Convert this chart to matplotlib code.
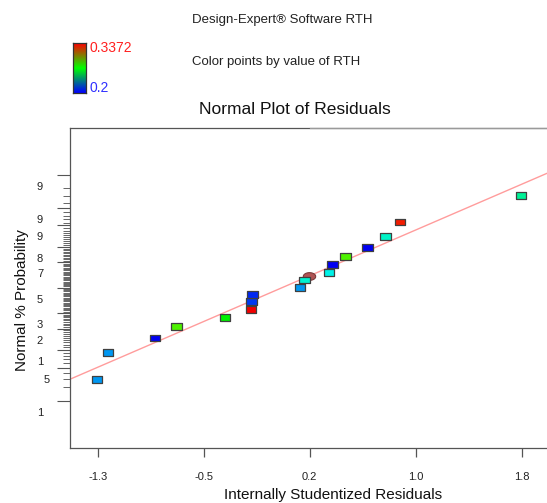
import math
from statistics import NormalDist

import numpy as np
import matplotlib
matplotlib.use("Agg")
import matplotlib.pyplot as plt
from matplotlib import colors, transforms

plt.rcParams['font.family'] = ['Liberation Sans', 'DejaVu Sans']

W, H = 547, 503

# residual tick values (evenly spaced) and the rounded labels shown
xtick_values = [-1.31, -0.54, 0.23, 1.00, 1.77]
xtick_labels = ["-1.3", "-0.5", "0.2", "1.0", "1.8"]

# probability ticks; the labels are clipped to one digit in the original
ytick_values = [99, 95, 90, 80, 70, 50, 30, 20, 10, 5, 1]
ytick_labels = ["9", "9", "9", "8", "7", "5", "3", "2", "1", "5", "1"]

# studentized residuals, normal % probability and RTH value of each run
residuals = [-1.315, -1.235, -0.893, -0.738, -0.384, -0.199, -0.192, -0.185,
             0.161, 0.193, 0.372, 0.397, 0.491, 0.651, 0.782, 0.886, 1.766]
probs = [3.0, 9.2, 15.0, 21.1, 27.1, 32.8, 38.7, 44.3,
         50.3, 56.3, 62.1, 68.2, 73.8, 79.7, 85.5, 91.2, 97.1]
rth = [0.2214, 0.2214, 0.2, 0.2795, 0.2686, 0.3372, 0.2080, 0.2057,
       0.2214, 0.2390, 0.2357, 0.2, 0.2795, 0.2, 0.2406, 0.3332, 0.2472]

# the odd round point
circle_resid = [0.228]
circle_prob = [59.9]

# reference line, read at the two frame edges
line_x = [-1.511, 1.955]
line_p = [3.0, 99.07]

rth_min, rth_max = 0.2, 0.3372

nd = NormalDist()
_inv = np.vectorize(lambda v: nd.inv_cdf(v / 100.0), otypes=[float])
_erf = np.vectorize(math.erf, otypes=[float])


def prob_to_z(p):
    p = np.clip(np.asarray(p, dtype=float), 1e-6, 100 - 1e-6)
    return _inv(p)


def z_to_prob(z):
    z = np.asarray(z, dtype=float)
    return 50.0 * (1.0 + _erf(z / math.sqrt(2.0)))


def rth_color(v):
    t = (v - rth_min) / (rth_max - rth_min)
    hue = (240.0 - 240.0 * t) / 360.0
    return colors.hsv_to_rgb([hue, 1.0, 0.95])


def px(x, y):
    return x / W, 1 - y / H


fig = plt.figure(figsize=(W / 100, H / 100), dpi=100)

left, right, top, bottom = 70.3, 597.0, 127.8, 447.6
ax = fig.add_axes([left / W, 1 - bottom / H, (right - left) / W, (bottom - top) / H])
ax.set_yscale('function', functions=(prob_to_z, z_to_prob))
ax.set_xlim(-1.511, 2.319)
ax.set_ylim(0.05, 99.95)

for side in ['left', 'bottom', 'top']:
    ax.spines[side].set_color('#555555')
    ax.spines[side].set_linewidth(0.9)
ax.spines['right'].set_visible(False)

# lighter right part of the top frame
blend_top = transforms.blended_transform_factory(ax.transData, ax.transAxes)
ax.plot([0.232, 2.319], [1, 1], transform=blend_top, color='#9a9a9a', lw=0.9,
        clip_on=False, zorder=5)

ax.set_xticks(xtick_values, labels=xtick_labels)
ax.tick_params(axis='x', direction='out', length=6.5, width=0.9, color='#555555',
               labelsize=8, pad=11, labelcolor='#222222')

ax.set_yticks(ytick_values)
ax.set_yticks(range(1, 100), minor=True)
ax.tick_params(axis='y', which='major', direction='out', length=9.6, width=0.8,
               color='#555555', labelleft=False)
ax.tick_params(axis='y', which='minor', direction='out', length=5, width=0.7,
               color='#666666')

blend_left = transforms.blended_transform_factory(ax.transAxes, ax.transData)
for p, lab in zip(ytick_values, ytick_labels):
    dx = -23.3 if p == 5 else -30.3
    off = transforms.ScaledTranslation(dx / 100, -12 / 100, fig.dpi_scale_trans)
    ax.text(0, p, lab, transform=blend_left + off, ha='center', va='center',
            fontsize=8, color='#222222')

ax.axline((line_x[0], line_p[0]), (line_x[1], line_p[1]), color='#ff9c9c',
          lw=1.0, zorder=2)

ell = np.linspace(0, 2 * np.pi, 40)
ellipse_marker = list(zip(np.cos(ell), 0.62 * np.sin(ell)))
ax.scatter(circle_resid, circle_prob, marker=ellipse_marker, s=80,
           color='#b05454', edgecolors='#7a3a3a', linewidths=0.8, zorder=3)

rect_marker = [(-1, -0.66), (1, -0.66), (1, 0.66), (-1, 0.66), (-1, -0.66)]
ax.scatter(residuals, probs, marker=rect_marker, s=56,
           c=[rth_color(v) for v in rth], edgecolors='#404040',
           linewidths=0.9, zorder=4)

# colour key
cax = fig.add_axes([73.3 / W, 1 - 92.7 / H, 12.4 / W, 49.4 / H])
key_cmap = colors.LinearSegmentedColormap.from_list('key', ['#0000ff', '#00ff00', '#ff0000'])
cax.imshow(np.linspace(0, 1, 100).reshape(-1, 1), cmap=key_cmap, aspect='auto',
           origin='lower', extent=[0, 1, 0, 1])
cax.set_xticks([])
cax.set_yticks([])
for s in cax.spines.values():
    s.set_color('#333333')
    s.set_linewidth(0.9)

fig.text(*px(90, 48.3), f"{rth_max:.4f}", color='#ff2020', fontsize=10,
         ha='left', va='center')
fig.text(*px(90, 87.7), f"{rth_min:g}", color='#3030ff', fontsize=10,
         ha='left', va='center')

fig.text(*px(192.3, 20), "Design-Expert® Software RTH", fontsize=9.5,
         ha='left', va='center', color='#222222')
fig.text(*px(192.3, 61.7), "Color points by value of RTH", fontsize=9.5,
         ha='left', va='center', color='#222222')

fig.text(*px(294.5, 109), "Normal Plot of Residuals", fontsize=12.5,
         ha='center', va='center', color='#111111')
fig.text(*px(333.5, 495), "Internally Studentized Residuals", fontsize=11,
         ha='center', va='center', color='#111111')
fig.text(*px(22, 300), "Normal % Probability", fontsize=11, rotation=90,
         ha='center', va='center', color='#111111')

fig.savefig('out.png', dpi=100)
